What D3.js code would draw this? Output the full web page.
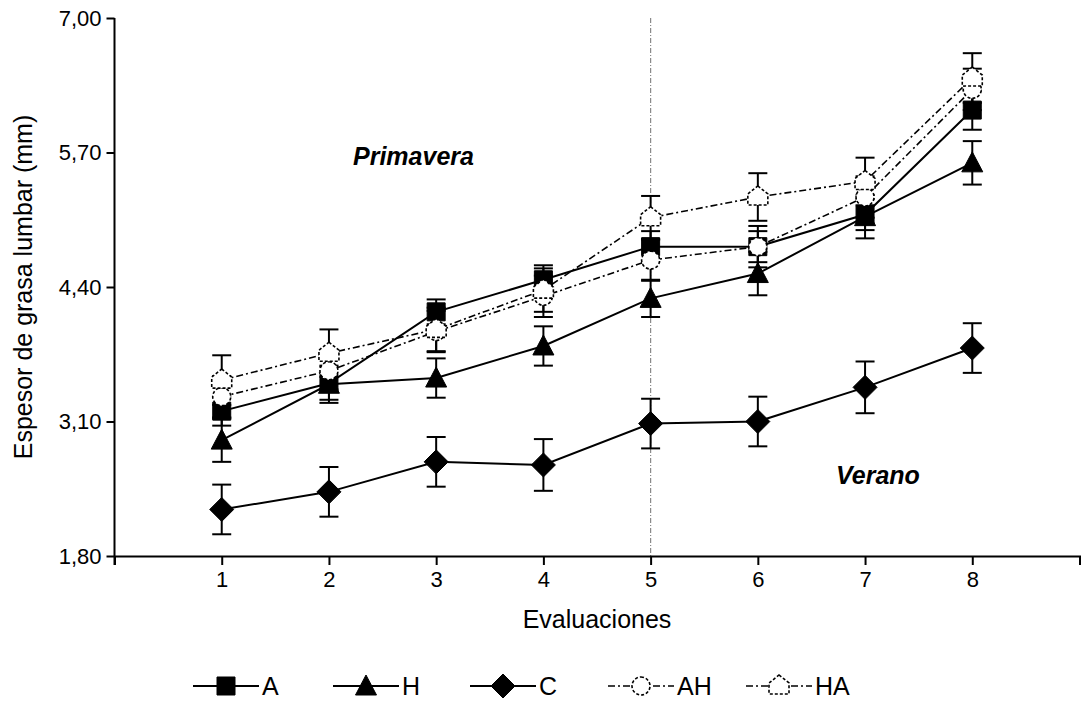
<!DOCTYPE html>
<html><head><meta charset="utf-8">
<script src="https://cdn.jsdelivr.net/npm/d3@7"></script>
<style>
html,body{margin:0;padding:0;background:#fff;}
svg text{font-family:"Liberation Sans",Arial,sans-serif;}
</style></head>
<body>
<svg id="c" width="1082" height="701"></svg>
<script>
const evaluaciones = [1,2,3,4,5,6,7,8];
const seriesNames = ["A","H","C","AH","HA"];
const valA  = [3.20, 3.47, 4.16, 4.47, 4.79, 4.79, 5.10, 6.11];
const valH  = [2.92, 3.46, 3.52, 3.83, 4.29, 4.53, 5.08, 5.60];
const valC  = [2.25, 2.42, 2.71, 2.68, 3.08, 3.10, 3.43, 3.81];
const valAH = [3.34, 3.59, 3.97, 4.31, 4.66, 4.79, 5.27, 6.31];
const valHA = [3.50, 3.76, 3.99, 4.37, 5.07, 5.27, 5.42, 6.42];
const errA  = [0.14, 0.16, 0.12, 0.14, 0.15, 0.15, 0.15, 0.19];
const errH  = [0.21, 0.18, 0.19, 0.19, 0.18, 0.21, 0.21, 0.21];
const errC  = [0.24, 0.24, 0.24, 0.25, 0.24, 0.24, 0.25, 0.24];
const errAH = [0.20, 0.18, 0.20, 0.20, 0.20, 0.20, 0.20, 0.20];
const errHA = [0.24, 0.23, 0.21, 0.21, 0.21, 0.23, 0.23, 0.24];
const yTickValues = [1.80, 3.10, 4.40, 5.70, 7.00];
const yTickLabels = ["1,80","3,10","4,40","5,70","7,00"];
const xTickValues = [0,1,2,3,4,5,6,7,8,9];
const xTickLabels = ["","1","2","3","4","5","6","7","8",""];
const seasonLabels = ["Primavera","Verano"];
const xTitle = "Evaluaciones";
const yTitle = "Espesor de grasa lumbar (mm)";
const dividerAt = 5;

const values = [valA, valH, valC, valAH, valHA];
const errors = [errA, errH, errC, errAH, errHA];
const shapes = ["square","triangle","diamond","circle","house"];
const dashed = [false,false,false,true,true];

const svg = d3.select("#c");
const x = d3.scaleLinear().domain([0,9]).range([114.5,1079.5]);
const y = d3.scaleLinear().domain([1.8,7.0]).range([556,18]);

function markerPath(shape){
  if(shape==="square") return "M-9,-9H9V9H-9Z";
  if(shape==="triangle") return "M0,-11L10.5,9H-10.5Z";
  if(shape==="diamond") return "M0,-12L12,0L0,12L-12,0Z";
  if(shape==="circle") return d3.arc()({innerRadius:0,outerRadius:9,startAngle:0,endAngle:2*Math.PI});
  if(shape==="house") return "M0,-11L10,-3V8H-10V-3Z";
}

// divider line
svg.append("line")
  .attr("x1",x(dividerAt)).attr("x2",x(dividerAt))
  .attr("y1",y(7.0)).attr("y2",y(1.8))
  .attr("stroke","#8a8a8a").attr("stroke-width",1.2)
  .attr("stroke-dasharray","5,2,1,2");

// axes
const yAxis = d3.axisLeft(y).tickValues(yTickValues)
  .tickFormat((d,i)=>yTickLabels[i]).tickSizeOuter(0).tickSize(8).tickPadding(5);
const gy = svg.append("g").attr("transform",`translate(${x(0)},0)`).call(yAxis);
gy.select(".domain").attr("stroke","#000").attr("stroke-width",2).attr("d",`M0,${y(7.0)}V${y(1.8)+9}`);
gy.selectAll(".tick line").attr("stroke","#000").attr("stroke-width",2);
gy.selectAll(".tick text").attr("font-size",22).attr("fill","#000").attr("dy","0.34em");

const xAxis = d3.axisBottom(x).tickValues(xTickValues)
  .tickFormat((d,i)=>xTickLabels[i]).tickSizeOuter(0).tickSize(9).tickPadding(6);
const gx = svg.append("g").attr("transform",`translate(0,${y(1.8)})`).call(xAxis);
gx.select(".domain").attr("stroke","#000").attr("stroke-width",2);
gx.selectAll(".tick line").attr("stroke","#000").attr("stroke-width",2);
gx.selectAll(".tick text").attr("font-size",22).attr("fill","#000");

// titles
svg.append("text").attr("x",x(4.5)).attr("y",628).attr("text-anchor","middle")
  .attr("font-size",25).text(xTitle);
svg.append("text").attr("transform",`translate(32,${y(4.4)}) rotate(-90)`)
  .attr("text-anchor","middle").attr("font-size",25).text(yTitle);

svg.append("text").attr("x",353).attr("y",165).attr("font-size",25)
  .attr("font-weight","bold").attr("font-style","italic").text(seasonLabels[0]);
svg.append("text").attr("x",836).attr("y",484).attr("font-size",25)
  .attr("font-weight","bold").attr("font-style","italic").text(seasonLabels[1]);

const line = d3.line().x((d,i)=>x(evaluaciones[i])).y(d=>y(d));
const dashPattern = "7,3,2,3";

// lines
values.forEach((vals,s)=>{
  svg.append("path").attr("d",line(vals)).attr("fill","none")
    .attr("stroke","#000").attr("stroke-width",dashed[s]?1.6:2)
    .attr("stroke-dasharray",dashed[s]?dashPattern:null);
});
// error bars
values.forEach((vals,s)=>{
  const g = svg.append("g").attr("stroke","#000").attr("stroke-width",2);
  vals.forEach((v,i)=>{
    const cx = x(evaluaciones[i]), e = errors[s][i];
    g.append("line").attr("x1",cx).attr("x2",cx).attr("y1",y(v+e)).attr("y2",y(v-e));
    g.append("line").attr("x1",cx-9.5).attr("x2",cx+9.5).attr("y1",y(v+e)).attr("y2",y(v+e));
    g.append("line").attr("x1",cx-9.5).attr("x2",cx+9.5).attr("y1",y(v-e)).attr("y2",y(v-e));
  });
});
// markers
values.forEach((vals,s)=>{
  svg.append("g").selectAll("path").data(vals).join("path")
    .attr("transform",(d,i)=>`translate(${x(evaluaciones[i])},${y(d)})`)
    .attr("d",markerPath(shapes[s]))
    .attr("fill",dashed[s]?"#fff":"#000")
    .attr("stroke","#000").attr("stroke-width",dashed[s]?1.6:1)
    .attr("stroke-dasharray",dashed[s]?"3,2":null);
});

// legend
const legendX = [226,366,503,641,779];
seriesNames.forEach((name,s)=>{
  const cx = legendX[s], cy = 686;
  svg.append("line").attr("x1",cx-33).attr("x2",cx+33).attr("y1",cy).attr("y2",cy)
    .attr("stroke","#000").attr("stroke-width",dashed[s]?1.6:2)
    .attr("stroke-dasharray",dashed[s]?dashPattern:null);
  svg.append("path").attr("transform",`translate(${cx},${cy})`)
    .attr("d",markerPath(shapes[s])).attr("fill",dashed[s]?"#fff":"#000")
    .attr("stroke","#000").attr("stroke-width",dashed[s]?1.6:1)
    .attr("stroke-dasharray",dashed[s]?"3,2":null);
  svg.append("text").attr("x",cx+36).attr("y",cy+9).attr("font-size",25).text(name);
});
</script>
</body></html>
